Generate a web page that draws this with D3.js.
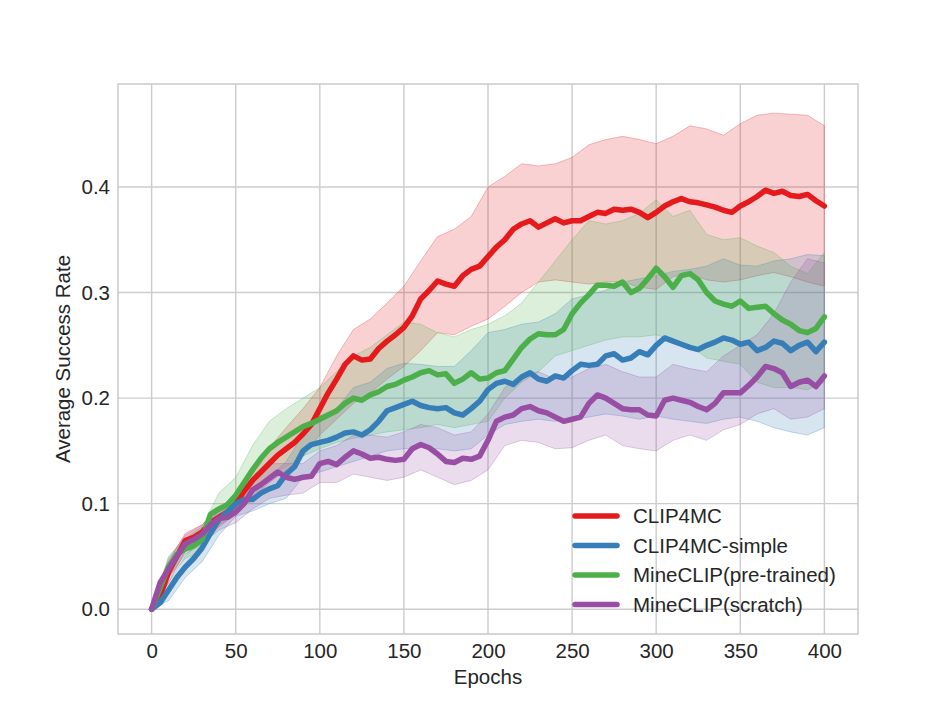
<!DOCTYPE html>
<html lang="en">
  <meta charset="utf-8">
  <style>
    body { margin: 0; background: #fff; }
    text { font-family: "Liberation Sans", Arial, sans-serif; fill: #262626; }
  </style>
  <body>
    <svg width="951" height="713"></svg>

    <script src="https://d3js.org/d3.v7.min.js"></script>
    <script>
    // series names + colours (Set1)
    let names = ['CLIP4MC', 'CLIP4MC-simple', 'MineCLIP(pre-trained)', 'MineCLIP(scratch)']
    let colors = ['#e41a1c', '#377eb8', '#4daf4a', '#984ea3']

    // x positions: means every 5 epochs, bands every 10 epochs
    let epochsMean = d3.range(0, 401, 5)
    let epochsBand = d3.range(0, 401, 10)

    let xTicks = [0, 50, 100, 150, 200, 250, 300, 350, 400]
    let yTicks = [0.0, 0.1, 0.2, 0.3, 0.4]

    // mean curves
    let clip4mc = [0, 0.012, 0.035, 0.05, 0.065, 0.068, 0.073, 0.082, 0.087, 0.092,
      0.1, 0.112, 0.122, 0.13, 0.138, 0.146, 0.152, 0.158, 0.166, 0.175,
      0.19, 0.205, 0.218, 0.232, 0.24, 0.236, 0.237, 0.247, 0.254, 0.26,
      0.267, 0.278, 0.294, 0.302, 0.311, 0.308, 0.306, 0.316, 0.322, 0.325,
      0.334, 0.343, 0.35, 0.36, 0.365, 0.368, 0.362, 0.366, 0.37, 0.366,
      0.368, 0.368, 0.372, 0.376, 0.375, 0.379, 0.378, 0.379, 0.376, 0.371,
      0.376, 0.382, 0.386, 0.389, 0.386, 0.385, 0.383, 0.381, 0.378, 0.376,
      0.382, 0.386, 0.391, 0.397, 0.394, 0.396, 0.392, 0.391, 0.393, 0.387, 0.382]
    let clip4mcSimple = [0, 0.006, 0.018, 0.03, 0.04, 0.048, 0.058, 0.072, 0.085, 0.092,
      0.1, 0.104, 0.104, 0.11, 0.114, 0.117, 0.128, 0.135, 0.15, 0.156,
      0.158, 0.16, 0.163, 0.167, 0.168, 0.165, 0.17, 0.178, 0.188, 0.191,
      0.194, 0.197, 0.193, 0.191, 0.19, 0.191, 0.186, 0.184, 0.19, 0.197,
      0.208, 0.214, 0.216, 0.213, 0.22, 0.224, 0.218, 0.216, 0.221, 0.219,
      0.226, 0.232, 0.231, 0.232, 0.24, 0.242, 0.236, 0.238, 0.244, 0.241,
      0.25, 0.257, 0.254, 0.251, 0.248, 0.246, 0.25, 0.253, 0.257, 0.255,
      0.251, 0.253, 0.245, 0.248, 0.254, 0.252, 0.245, 0.25, 0.253, 0.244, 0.253]
    let mineclipPre = [0, 0.02, 0.04, 0.052, 0.057, 0.06, 0.066, 0.09, 0.095, 0.099,
      0.108, 0.12, 0.132, 0.143, 0.152, 0.158, 0.163, 0.168, 0.173, 0.176,
      0.18, 0.184, 0.188, 0.195, 0.2, 0.198, 0.203, 0.206, 0.211, 0.213,
      0.217, 0.22, 0.224, 0.226, 0.222, 0.223, 0.214, 0.218, 0.224, 0.218,
      0.219, 0.224, 0.226, 0.237, 0.248, 0.256, 0.261, 0.26, 0.26, 0.265,
      0.28, 0.29, 0.298, 0.307, 0.307, 0.306, 0.31, 0.3, 0.304, 0.313,
      0.323, 0.315, 0.305, 0.316, 0.318, 0.312, 0.3, 0.292, 0.289, 0.287,
      0.292, 0.285, 0.286, 0.287, 0.28, 0.274, 0.27, 0.264, 0.262, 0.266, 0.277]
    let mineclipScratch = [0, 0.025, 0.038, 0.05, 0.062, 0.066, 0.071, 0.08, 0.086, 0.087,
      0.092, 0.1, 0.113, 0.118, 0.124, 0.13, 0.125, 0.123, 0.125, 0.126,
      0.138, 0.14, 0.137, 0.144, 0.15, 0.147, 0.143, 0.144, 0.142, 0.141,
      0.142, 0.152, 0.156, 0.153, 0.147, 0.14, 0.139, 0.143, 0.142, 0.145,
      0.16, 0.178, 0.182, 0.184, 0.19, 0.192, 0.188, 0.186, 0.182, 0.178,
      0.18, 0.182, 0.195, 0.203, 0.2, 0.195, 0.19, 0.189, 0.189, 0.184,
      0.183, 0.198, 0.2, 0.198, 0.196, 0.192, 0.189, 0.195, 0.205, 0.205,
      0.205, 0.212, 0.22, 0.23, 0.228, 0.224, 0.211, 0.215, 0.217, 0.211, 0.221]

    // shaded bands (upper / lower)
    let clip4mcHi = [0, 0.045, 0.072, 0.08, 0.095, 0.108, 0.135, 0.153, 0.172, 0.19,
      0.21, 0.24, 0.265, 0.275, 0.29, 0.306, 0.33, 0.353, 0.36, 0.372,
      0.4, 0.41, 0.422, 0.42, 0.422, 0.428, 0.44, 0.445, 0.448, 0.445,
      0.441, 0.448, 0.458, 0.455, 0.449, 0.46, 0.468, 0.47, 0.469, 0.468, 0.458]
    let clip4mcLo = [0, 0.025, 0.055, 0.065, 0.078, 0.09, 0.105, 0.12, 0.132, 0.145,
      0.165, 0.18, 0.195, 0.205, 0.218, 0.23, 0.245, 0.262, 0.26, 0.268,
      0.275, 0.287, 0.3, 0.31, 0.312, 0.31, 0.308, 0.31, 0.31, 0.305,
      0.303, 0.315, 0.318, 0.312, 0.31, 0.312, 0.316, 0.319, 0.315, 0.31, 0.306]
    let clip4mcSimpleHi = [0, 0.025, 0.05, 0.068, 0.095, 0.11, 0.115, 0.125, 0.14, 0.165,
      0.183, 0.19, 0.21, 0.215, 0.228, 0.233, 0.232, 0.23, 0.23, 0.245,
      0.262, 0.265, 0.27, 0.272, 0.28, 0.294, 0.298, 0.302, 0.31, 0.313,
      0.316, 0.32, 0.322, 0.325, 0.332, 0.326, 0.325, 0.33, 0.332, 0.336, 0.335]
    let clip4mcSimpleLo = [0, 0.008, 0.03, 0.045, 0.07, 0.088, 0.093, 0.1, 0.105, 0.125,
      0.13, 0.135, 0.14, 0.145, 0.15, 0.152, 0.153, 0.152, 0.15, 0.152,
      0.165, 0.175, 0.178, 0.18, 0.178, 0.18, 0.182, 0.185, 0.183, 0.18,
      0.183, 0.18, 0.178, 0.176, 0.18, 0.182, 0.178, 0.172, 0.168, 0.165, 0.172]
    let mineclipPreHi = [0, 0.05, 0.067, 0.078, 0.11, 0.125, 0.155, 0.178, 0.19, 0.2,
      0.21, 0.225, 0.24, 0.248, 0.26, 0.272, 0.27, 0.262, 0.258, 0.265,
      0.27, 0.278, 0.29, 0.31, 0.33, 0.35, 0.368, 0.365, 0.368, 0.375,
      0.388, 0.372, 0.378, 0.355, 0.35, 0.352, 0.344, 0.338, 0.325, 0.318, 0.338]
    let mineclipPreLo = [0, 0.03, 0.048, 0.055, 0.08, 0.09, 0.11, 0.125, 0.135, 0.145,
      0.152, 0.158, 0.162, 0.165, 0.168, 0.17, 0.172, 0.175, 0.172, 0.175,
      0.178, 0.2, 0.215, 0.225, 0.24, 0.245, 0.25, 0.255, 0.258, 0.258,
      0.26, 0.255, 0.25, 0.238, 0.235, 0.232, 0.215, 0.21, 0.21, 0.208, 0.215]
    let mineclipScratchHi = [0, 0.048, 0.07, 0.08, 0.095, 0.1, 0.12, 0.138, 0.138, 0.138,
      0.15, 0.155, 0.165, 0.165, 0.163, 0.168, 0.175, 0.172, 0.165, 0.168,
      0.185, 0.21, 0.222, 0.225, 0.218, 0.22, 0.228, 0.232, 0.225, 0.22,
      0.22, 0.232, 0.228, 0.225, 0.24, 0.25, 0.26, 0.28, 0.31, 0.332, 0.328]
    let mineclipScratchLo = [0, 0.03, 0.052, 0.062, 0.075, 0.082, 0.095, 0.105, 0.108, 0.11,
      0.12, 0.12, 0.128, 0.125, 0.122, 0.125, 0.132, 0.125, 0.118, 0.122,
      0.132, 0.155, 0.16, 0.158, 0.152, 0.153, 0.16, 0.165, 0.155, 0.152,
      0.15, 0.16, 0.165, 0.16, 0.17, 0.175, 0.185, 0.19, 0.18, 0.182, 0.19]

    let means = [clip4mc, clip4mcSimple, mineclipPre, mineclipScratch]
    let highs = [clip4mcHi, clip4mcSimpleHi, mineclipPreHi, mineclipScratchHi]
    let lows = [clip4mcLo, clip4mcSimpleLo, mineclipPreLo, mineclipScratchLo]

    let margin = {left: 118, right: 858, top: 84, bottom: 634}
    let fontSize = '20.5px'

    let x = d3.scaleLinear()
              .domain([-20, 420])
              .range([margin.left, margin.right])
    let y = d3.scaleLinear()
              .domain([-0.0235, 0.4976])
              .range([margin.bottom, margin.top])

    let svg = d3.select('svg')

    // grid
    let grid = svg.append('g').attr('stroke', '#cccccc').attr('stroke-width', 1.4)
    grid.selectAll('.gx').data(xTicks).enter().append('line')
        .attr('x1', d => x(d)).attr('x2', d => x(d))
        .attr('y1', margin.top).attr('y2', margin.bottom)
    grid.selectAll('.gy').data(yTicks).enter().append('line')
        .attr('x1', margin.left).attr('x2', margin.right)
        .attr('y1', d => y(d)).attr('y2', d => y(d))

    // axes (no tick marks, only labels)
    let xAxis = svg.append('g')
       .attr('transform', `translate(0,${margin.bottom})`)
       .call(d3.axisBottom(x).tickValues(xTicks).tickSize(0).tickPadding(9))
    let yAxis = svg.append('g')
       .attr('transform', `translate(${margin.left},0)`)
       .call(d3.axisLeft(y).tickValues(yTicks).tickFormat(d3.format('.1f')).tickSize(0).tickPadding(8))
    ;[xAxis, yAxis].forEach(g => {
      g.select('.domain').remove()
      g.selectAll('text').attr('font-size', fontSize).attr('fill', '#262626')
        .attr('font-family', '"Liberation Sans", Arial, sans-serif')
    })

    // shaded bands
    let area = (hi, lo) => d3.area()
        .x((d, i) => x(epochsBand[i]))
        .y0((d, i) => y(lo[i]))
        .y1((d, i) => y(hi[i]))(hi)
    let bands = svg.append('g')
    means.forEach((m, k) => {
      bands.append('path')
        .attr('d', area(highs[k], lows[k]))
        .attr('fill', colors[k])
        .attr('fill-opacity', 0.2)
        .attr('stroke', colors[k])
        .attr('stroke-opacity', 0.28)
        .attr('stroke-width', 1)
    })

    // mean lines
    let line = d3.line()
        .x((d, i) => x(epochsMean[i]))
        .y(d => y(d))
    let lines = svg.append('g')
    means.forEach((m, k) => {
      lines.append('path')
        .attr('d', line(m))
        .attr('fill', 'none')
        .attr('stroke', colors[k])
        .attr('stroke-width', 5.5)
        .attr('stroke-linejoin', 'round')
        .attr('stroke-linecap', 'round')
    })

    // frame
    svg.append('rect')
       .attr('x', margin.left).attr('y', margin.top)
       .attr('width', margin.right - margin.left)
       .attr('height', margin.bottom - margin.top)
       .attr('fill', 'none').attr('stroke', '#cccccc').attr('stroke-width', 1.6)

    // axis titles
    svg.append('text')
       .attr('x', (margin.left + margin.right) / 2).attr('y', 684)
       .attr('text-anchor', 'middle').attr('font-size', fontSize)
       .text('Epochs')
    svg.append('text')
       .attr('transform', `translate(70,${(margin.top + margin.bottom) / 2}) rotate(-90)`)
       .attr('text-anchor', 'middle').attr('font-size', fontSize)
       .text('Average Success Rate')

    // legend
    let legend = svg.append('g').attr('transform', 'translate(573,516)')
    let rows = legend.selectAll('g').data(names).enter().append('g')
       .attr('transform', (d, i) => `translate(0,${i * 29.5})`)
    rows.append('line')
       .attr('x1', 2).attr('x2', 44).attr('y1', 0).attr('y2', 0)
       .attr('stroke', (d, i) => colors[i])
       .attr('stroke-width', 5.5).attr('stroke-linecap', 'round')
    rows.append('text')
       .attr('x', 60).attr('y', 7)
       .attr('font-size', fontSize)
       .text(d => d)
    </script>
</body>
</html>
